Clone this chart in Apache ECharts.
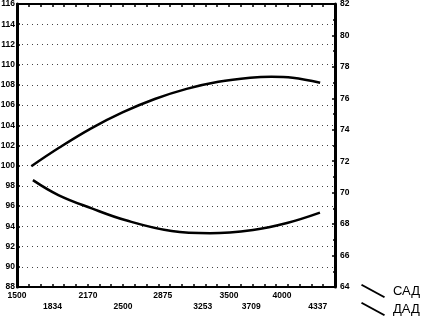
<!DOCTYPE html>
<html>
<head>
<meta charset="utf-8">
<script src="https://cdn.jsdelivr.net/npm/echarts@6/dist/echarts.min.js"></script>
<style>
  html, body { margin: 0; padding: 0; background: #fff; }
  #main { width: 422px; height: 318px; }
</style>
</head>
<body>
<div id="main"></div>
<script>
const myChart = echarts.init(document.getElementById('main'));

// данные
const sadX = [1635, 1900, 2200, 2500, 2800, 3100, 3400, 3700, 3900, 4100, 4360];
const sadY = [99.95, 101.8, 103.7, 105.3, 106.6, 107.6, 108.3, 108.7, 108.8, 108.7, 108.2];
const dadX = [1650, 1890, 2205, 2519, 2959, 3321, 3726, 4047, 4358];
const dadY = [70.8, 69.85, 69.0, 68.26, 67.56, 67.42, 67.63, 68.07, 68.73];
const xLabelsRow1 = [1500, 2170, 2875, 3500, 4000];
const xLabelsRow2 = [1834, 2500, 3253, 3709, 4337];
const seriesNames = ['САД', 'ДАД'];

const xTicks = [];
for (let i = 0; i <= 27; i++) xTicks.push(1500 + i * 3000 / 27);

const lblFont = {
    fontFamily: 'Liberation Sans Narrow, Liberation Sans, Arial',
    fontWeight: 'bold',
    fontSize: 8.5,
    color: '#000',
    formatter: v => String(v)
};

option = {
    animation: false,
    backgroundColor: '#fff',
    grid: { left: 17, right: 87, top: 4, bottom: 31, outerBoundsMode: 'none', containLabel: false },
    legend: {
        orient: 'vertical',
        left: 361,
        top: 284,
        padding: 0,
        itemWidth: 24,
        itemHeight: 14,
        itemGap: 4,
        data: [
            { name: seriesNames[0], icon: 'path://M1,0 L24,12.6 L23,14 L0,1.4 Z' },
            { name: seriesNames[1], icon: 'path://M1,0 L24,12.6 L23,14 L0,1.4 Z' }
        ],
        textStyle: { fontFamily: 'Liberation Sans, Arial', fontSize: 13, color: '#000', padding: [0, 0, 0, 3] }
    },
    xAxis: [
        {
            type: 'value', min: 1500, max: 4500, position: 'bottom',
            axisLine: { lineStyle: { color: '#000', width: 2 } },
            axisTick: { inside: true, length: 3, customValues: xTicks, lineStyle: { color: '#000', width: 1.5 } },
            axisLabel: Object.assign({ customValues: xLabelsRow1, margin: 4 }, lblFont),
            splitLine: { show: false }
        },
        {
            type: 'value', min: 1500, max: 4500, position: 'bottom',
            axisLine: { show: false },
            axisTick: { show: false },
            axisLabel: Object.assign({ customValues: xLabelsRow2, margin: 15 }, lblFont),
            splitLine: { show: false }
        },
        {
            type: 'value', min: 1500, max: 4500, position: 'top',
            axisLine: { lineStyle: { color: '#000', width: 2 } },
            axisTick: { inside: true, length: 3, customValues: xTicks, lineStyle: { color: '#000', width: 1.5 } },
            axisLabel: { show: false },
            splitLine: { show: false }
        }
    ],
    yAxis: [
        {
            type: 'value', min: 88, max: 116, interval: 2, position: 'left',
            axisLine: { show: true, lineStyle: { color: '#000', width: 3 } },
            axisTick: { show: true, inside: true, length: 3, lineStyle: { color: '#000', width: 1.5 } },
            minorTick: { show: true, splitNumber: 2, length: 2, lineStyle: { color: '#000', width: 1.5 } },
            axisLabel: Object.assign({ margin: 2 }, lblFont),
            splitLine: { show: true, lineStyle: { color: '#444', width: 1, type: [1, 4] } }
        },
        {
            type: 'value', min: 64, max: 82, interval: 2, position: 'right',
            axisLine: { show: true, lineStyle: { color: '#000', width: 3 } },
            axisTick: { show: true, inside: true, length: 3, lineStyle: { color: '#000', width: 1.5 } },
            minorTick: { show: true, splitNumber: 2, length: 2, lineStyle: { color: '#000', width: 1.5 } },
            axisLabel: Object.assign({ margin: 5 }, lblFont),
            splitLine: { show: false }
        }
    ],
    series: [
        {
            name: seriesNames[0],
            type: 'line',
            xAxisIndex: 0,
            yAxisIndex: 0,
            smooth: 0.4,
            showSymbol: false,
            color: '#000',
            lineStyle: { color: '#000', width: 2.5 },
            data: sadX.map((x, i) => [x, sadY[i]])
        },
        {
            name: seriesNames[1],
            type: 'line',
            xAxisIndex: 0,
            yAxisIndex: 1,
            smooth: 0.4,
            showSymbol: false,
            color: '#000',
            lineStyle: { color: '#000', width: 2.5 },
            data: dadX.map((x, i) => [x, dadY[i]])
        }
    ]
};

myChart.setOption(option);
</script>
</body>
</html>
